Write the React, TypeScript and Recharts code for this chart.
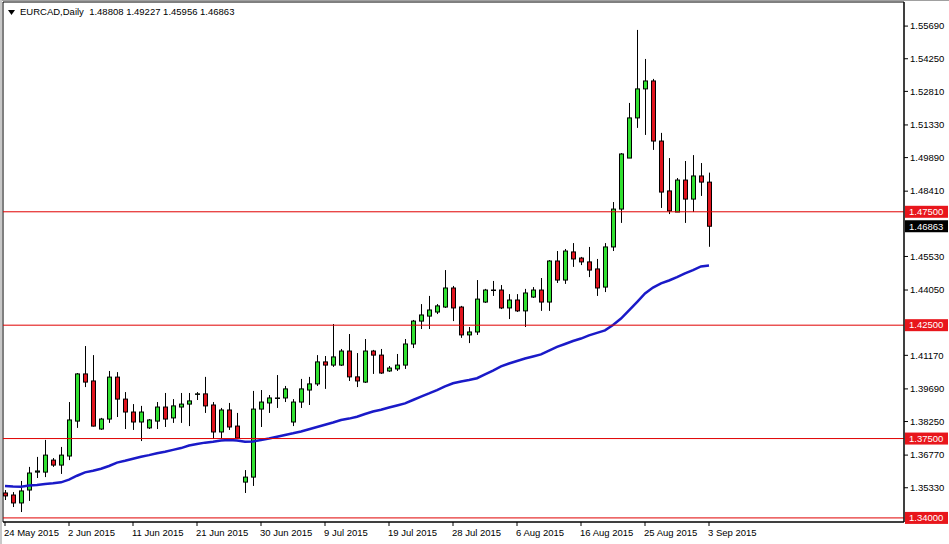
import React from 'react';
import { ComposedChart, Bar, Line, XAxis, YAxis, ReferenceLine, ReferenceArea } from 'recharts';

// x axis: one label every 8 daily bars (Sunday bars included)
const xTickBars = [0, 8, 16, 24, 32, 40, 48, 56, 64, 72, 80, 88];
const xTickLabels = [
  '24 May 2015', '2 Jun 2015', '11 Jun 2015', '21 Jun 2015', '30 Jun 2015', '9 Jul 2015',
  '19 Jul 2015', '28 Jul 2015', '6 Aug 2015', '16 Aug 2015', '25 Aug 2015', '3 Sep 2015',
];

const yTicks = [
  1.5569, 1.5425, 1.5281, 1.5133, 1.4989, 1.4841, 1.4553, 1.4405,
  1.4117, 1.3969, 1.3825, 1.3677, 1.3533,
];

const levels = [1.475, 1.425, 1.375, 1.34];
const lastClose = 1.46863;

const opens = [
  1.3510, 1.3501, 1.3466, 1.3523, 1.3602, 1.3602, 1.3655, 1.3633, 1.3673, 1.3827,
  1.4035, 1.4004, 1.3792, 1.3836, 1.4021, 1.3924, 1.3867, 1.3823, 1.3797, 1.3827,
  1.3889, 1.3841, 1.3889, 1.3902, 1.3945, 1.3947, 1.3898, 1.3779, 1.3876, 1.3805,
  1.3558, 1.3580, 1.3880, 1.3907, 1.3927, 1.3929, 1.3823, 1.3911, 1.3964, 1.3991,
  1.4088, 1.4074, 1.4074, 1.4136, 1.4022, 1.3999, 1.4136, 1.4118, 1.4048, 1.4057,
  1.4074, 1.4167, 1.4268, 1.4290, 1.4308, 1.4330, 1.4414, 1.4330, 1.4207, 1.4220,
  1.4352, 1.4405, 1.4405, 1.4326, 1.4361, 1.4313, 1.4374, 1.4405, 1.4352, 1.4533,
  1.4449, 1.4573, 1.4546, 1.4529, 1.4498, 1.4418, 1.4595, 1.4762, 1.4987, 1.5164,
  1.5292, 1.5327, 1.5062, 1.4842, 1.4749, 1.4890, 1.4806, 1.4908, 1.48808,
];

const highs = [
  1.3523, 1.3514, 1.3563, 1.3625, 1.3669, 1.3744, 1.3664, 1.3713, 1.3911, 1.4039,
  1.4158, 1.4118, 1.3841, 1.4048, 1.4043, 1.3955, 1.3902, 1.3894, 1.3836, 1.3911,
  1.3951, 1.3924, 1.3951, 1.3951, 1.3955, 1.4022, 1.3911, 1.3885, 1.3907, 1.3863,
  1.3611, 1.3960, 1.3964, 1.3942, 1.4030, 1.3982, 1.3924, 1.4013, 1.4022, 1.4118,
  1.4114, 1.4255, 1.4145, 1.4211, 1.4127, 1.4189, 1.4141, 1.4145, 1.4070, 1.4123,
  1.4189, 1.4273, 1.4343, 1.4379, 1.4343, 1.4493, 1.4423, 1.4335, 1.4242, 1.4449,
  1.4410, 1.4445, 1.4427, 1.4387, 1.4387, 1.4410, 1.4418, 1.4458, 1.4537, 1.4577,
  1.4586, 1.4612, 1.4551, 1.4595, 1.4542, 1.4612, 1.4793, 1.5009, 1.5230, 1.5552,
  1.5424, 1.5336, 1.5098, 1.4987, 1.4899, 1.4974, 1.5000, 1.4965, 1.49227,
];

const lows = [
  1.3479, 1.3448, 1.3426, 1.3475, 1.3576, 1.3580, 1.3625, 1.3594, 1.3655, 1.3797,
  1.3977, 1.3803, 1.3788, 1.3819, 1.3845, 1.3792, 1.3788, 1.3739, 1.3792, 1.3792,
  1.3801, 1.3819, 1.3819, 1.3805, 1.3920, 1.3863, 1.3748, 1.3748, 1.3788, 1.3748,
  1.3510, 1.3541, 1.3801, 1.3863, 1.3885, 1.3911, 1.3805, 1.3885, 1.3898, 1.3982,
  1.3969, 1.4066, 1.4070, 1.4004, 1.3977, 1.3995, 1.4035, 1.4035, 1.4044, 1.4048,
  1.4057, 1.4149, 1.4233, 1.4233, 1.4299, 1.4326, 1.4268, 1.4194, 1.4171, 1.4207,
  1.4348, 1.4379, 1.4321, 1.4277, 1.4308, 1.4242, 1.4370, 1.4313, 1.4313, 1.4436,
  1.4432, 1.4507, 1.4515, 1.4462, 1.4379, 1.4396, 1.4577, 1.4701, 1.4987, 1.5120,
  1.5089, 1.5023, 1.4767, 1.4740, 1.4749, 1.4701, 1.4749, 1.4820, 1.45956,
];

const closes = [
  1.3497, 1.3466, 1.3519, 1.3598, 1.3607, 1.3677, 1.3633, 1.3677, 1.3832, 1.4035,
  1.3999, 1.3805, 1.3836, 1.4021, 1.3924, 1.3867, 1.3823, 1.3867, 1.3832, 1.3889,
  1.3836, 1.3894, 1.3902, 1.3916, 1.3947, 1.3894, 1.3779, 1.3876, 1.3801, 1.3752,
  1.3580, 1.3880, 1.3911, 1.3929, 1.3929, 1.3969, 1.3911, 1.3969, 1.3991, 1.4088,
  1.4074, 1.4110, 1.4136, 1.4022, 1.4004, 1.4136, 1.4118, 1.4039, 1.4061, 1.4074,
  1.4167, 1.4268, 1.4295, 1.4317, 1.4335, 1.4414, 1.4326, 1.4207, 1.4220, 1.4365,
  1.4405, 1.4403, 1.4326, 1.4361, 1.4313, 1.4392, 1.4405, 1.4352, 1.4533, 1.4449,
  1.4577, 1.4542, 1.4529, 1.4493, 1.4414, 1.4595, 1.4762, 1.5005, 1.5164, 1.5292,
  1.5327, 1.5062, 1.4837, 1.4754, 1.4890, 1.4806, 1.4908, 1.4881, 1.46863,
];

// moving average (blue line)
const ma = [
  1.3541, 1.3539, 1.3538, 1.3543, 1.3545, 1.3550, 1.3553, 1.3557, 1.3569, 1.3586,
  1.3601, 1.3608, 1.3617, 1.3629, 1.3644, 1.3652, 1.3661, 1.3670, 1.3677, 1.3685,
  1.3692, 1.3700, 1.3708, 1.3719, 1.3726, 1.3732, 1.3736, 1.3741, 1.3744, 1.3741,
  1.3736, 1.3737, 1.3744, 1.3750, 1.3758, 1.3766, 1.3773, 1.3781, 1.3791, 1.3801,
  1.3811, 1.3821, 1.3832, 1.3838, 1.3846, 1.3858, 1.3869, 1.3877, 1.3887, 1.3896,
  1.3905, 1.3920, 1.3935, 1.3949, 1.3964, 1.3980, 1.3994, 1.4002, 1.4008, 1.4016,
  1.4033, 1.4050, 1.4068, 1.4081, 1.4092, 1.4103, 1.4112, 1.4121, 1.4138, 1.4154,
  1.4167, 1.4180, 1.4191, 1.4205, 1.4216, 1.4227, 1.4251, 1.4279, 1.4315, 1.4352,
  1.4390, 1.4416, 1.4434, 1.4447, 1.4462, 1.4478, 1.4493, 1.4509, 1.4513,
];

const rows = opens.map((o, i) => ({
  bar: i,
  open: o,
  high: highs[i],
  low: lows[i],
  close: closes[i],
  ma: ma[i],
}));

const FONT = '"Liberation Sans", Arial, sans-serif';
const GREEN = '#30e030';
const RED = '#e0141e';
const X_DOMAIN = [-0.25, 112.375];
const Y_DOMAIN = [1.3382, 1.56752];

const Candle = (props: any) => {
  const { x, y, width, height, payload } = props;
  if (!payload) return null;
  const top = Math.min(y, y + height);
  const h = Math.abs(height);
  const { open, high, low, close } = payload;
  const px = (v: number) => top + ((high - v) / (high - low)) * h;
  const cx = Math.round(x + width / 2) + 0.5;
  const yo = px(open);
  const yc = px(close);
  const bodyTop = Math.min(yo, yc);
  const bodyH = Math.max(Math.abs(yc - yo), 0.5);
  return (
    <g>
      <line x1={cx} x2={cx} y1={top} y2={top + h} stroke="#000" strokeWidth={1} />
      <rect x={cx - 2} y={bodyTop} width={4} height={bodyH}
        fill={close >= open ? GREEN : RED} stroke="#000" strokeWidth={1} />
    </g>
  );
};

const XTick = ({ x, y, payload }: any) => (
  <text x={x - 1} y={y + 8} fontSize={9.5} fontFamily={FONT} fill="#000">
    {xTickLabels[xTickBars.indexOf(payload.value)]}
  </text>
);

const YTick = ({ x, y, payload }: any) => (
  <text x={x} y={y} dy="0.35em" fontSize={9.5} fontFamily={FONT} fill="#000">
    {Number(payload.value).toFixed(5)}
  </text>
);

const PriceTag = ({ viewBox, text, bg }: any) => {
  if (!viewBox) return null;
  const { x, y, width } = viewBox;
  return (
    <g>
      <rect x={x + width + 1} y={y - 6} width={43} height={12} fill={bg} />
      <text x={x + width + 5} y={y} dy="0.35em" fontSize={9.5} fontFamily={FONT} fill="#fff">
        {text}
      </text>
    </g>
  );
};

export default function App() {
  return (
    <div style={{ position: 'absolute', left: 0, top: 0, width: 949, height: 544, background: '#fff', overflow: 'hidden' }}>
      <div style={{ position: 'absolute', left: 0, top: 0, width: 949, height: 1, background: '#a0a0a0' }} />
      <div style={{ position: 'absolute', left: 0, top: 0, width: 2, height: 544, background: '#c8c8c8' }} />
      <ComposedChart width={949} height={544} data={rows} margin={{ top: 2, right: 0, bottom: 0, left: 3 }}>
        <ReferenceArea x1={X_DOMAIN[0]} x2={X_DOMAIN[1]} y1={Y_DOMAIN[0]} y2={Y_DOMAIN[1]}
          fill="none" stroke="#000" strokeWidth={1} fillOpacity={0} />
        <XAxis dataKey="bar" type="number" domain={X_DOMAIN} allowDataOverflow ticks={xTickBars}
          interval={0} tick={<XTick />} tickSize={4} height={22} stroke="#000" />
        <YAxis orientation="right" type="number" domain={Y_DOMAIN} allowDataOverflow ticks={yTicks}
          interval={0} tick={<YTick />} tickSize={4} width={45} stroke="#000" />
        <Bar dataKey={(d: any) => [d.low, d.high]} barSize={5} isAnimationActive={false}
          shape={(p: any) => <Candle {...p} />} />
        <Line dataKey="ma" type="linear" stroke="#1a1ac8" strokeWidth={2.5} dot={false}
          activeDot={false} isAnimationActive={false} />
        {levels.map((lv) => (
          <ReferenceLine key={lv} y={lv} stroke="#e00000" strokeWidth={1}
            label={<PriceTag text={lv.toFixed(5)} bg="#e8161c" />} />
        ))}
        <ReferenceLine y={lastClose} stroke="none" strokeOpacity={0}
          label={<PriceTag text={lastClose.toFixed(5)} bg="#000" />} />
      </ComposedChart>
      <div style={{ position: 'absolute', left: 8, top: 6, fontFamily: FONT, fontSize: 9.5, whiteSpace: 'pre', lineHeight: '12px', color: '#000' }}>
        <svg width={7} height={5} style={{ marginRight: 5, verticalAlign: 'middle' }}>
          <polygon points="0,0 7,0 3.5,5" fill="#000" />
        </svg>
        {'EURCAD,Daily  1.48808 1.49227 1.45956 1.46863'}
      </div>
    </div>
  );
}
